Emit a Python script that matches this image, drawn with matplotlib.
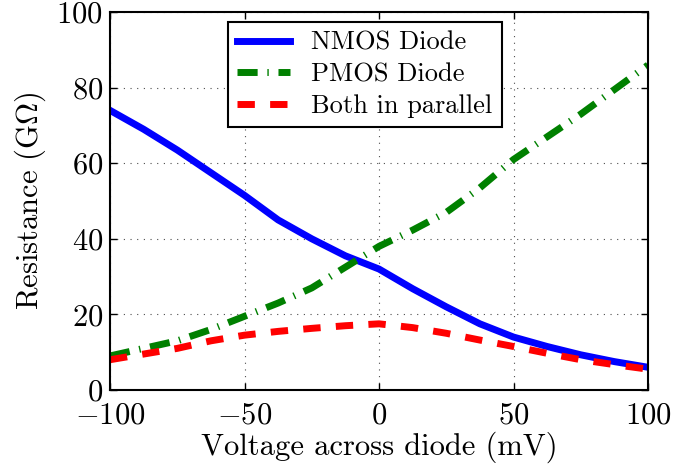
import matplotlib
matplotlib.use("Agg")
import matplotlib.pyplot as plt

plt.rcParams['font.family'] = 'serif'
plt.rcParams['font.serif'] = ['cmr10']
plt.rcParams['mathtext.fontset'] = 'cm'
plt.rcParams['axes.formatter.use_mathtext'] = True

# Voltage across diode (mV)
volts = [-100, -87.5, -75, -62.5, -50, -37.5, -25, -12.5, 0,
         12.5, 25, 37.5, 50, 62.5, 75, 87.5, 100]
# Resistance (GOhm)
nmos = [74, 69, 63.5, 57.5, 51.5, 45, 40, 35.5, 32,
        26.8, 22, 17.5, 14, 11.5, 9.3, 7.5, 6]
pmos = [9, 11, 13, 16, 19.5, 23, 27, 32.5, 38,
        42.3, 47, 53.5, 61, 67, 73, 79.5, 86]
both = [8, 9.5, 11, 13, 14.5, 15.5, 16.3, 17, 17.5,
        16.5, 15, 13.2, 11.5, 9.7, 8, 6.7, 5.5]

fig = plt.figure(figsize=(6.75, 4.67), dpi=100)
ax = fig.add_axes([0.163, 0.165, 0.797, 0.809])

ax.plot(volts, nmos, color='blue', lw=5, label='NMOS Diode')
ax.plot(volts, pmos, color='green', lw=5, ls=(0, (2.9, 1.4, 0.2, 1.4)),
        label='PMOS Diode')
ax.plot(volts, both, color='red', lw=5, ls=(0, (2.5, 2.2)),
        label='Both in parallel')

ax.set_xlim(-100, 100)
ax.set_ylim(0, 100)
ax.set_xticks([-100, -50, 0, 50, 100])
ax.set_yticks([0, 20, 40, 60, 80, 100])
ax.grid(True, ls=(0, (1, 5)), color='0.3', lw=0.8)
ax.tick_params(direction='in', top=True, right=True, length=5, width=1,
               labelsize=22, pad=5)
ax.tick_params(axis='x', pad=9)
for s in ax.spines.values():
    s.set_linewidth(1.5)

ax.set_xlabel('Voltage across diode (mV)', fontsize=22, labelpad=1)
ax.set_ylabel(r'Resistance (G$\Omega$)', fontsize=22, labelpad=6)

leg = ax.legend(loc='upper center', bbox_to_anchor=(0.474, 0.974),
                fontsize=19, fancybox=False, framealpha=1,
                edgecolor='black', borderaxespad=0, borderpad=0.35,
                handlelength=2.0, labelspacing=0.3)
leg.get_frame().set_linewidth(1.5)

fig.savefig('out.png', dpi=100)
